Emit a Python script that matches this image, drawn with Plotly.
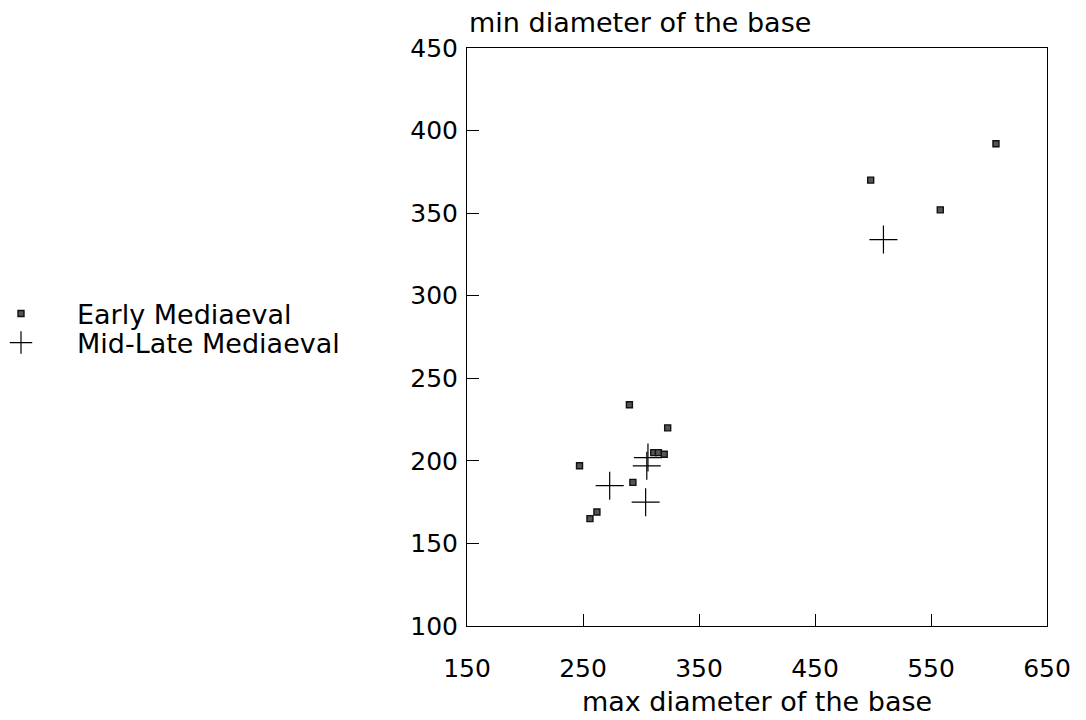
import plotly.graph_objects as go

# Early Mediaeval
early_x = [606, 498, 558, 290, 323, 311, 315, 320, 247, 293, 262, 256]
early_y = [392, 370, 352, 234, 220, 205, 205, 204, 197, 187, 169, 165]
# Mid-Late Mediaeval
late_x = [509, 273, 304, 306, 305]
late_y = [334, 185, 175, 202, 197]

x_ticks = [150, 250, 350, 450, 550, 650]
y_ticks = [100, 150, 200, 250, 300, 350, 400, 450]

FONT = "DejaVu Sans"
L, R, T, B = 467, 1047, 48, 626
W, H = 1086, 720


def px_x(p):
    return (p - L) / (R - L)


def px_y(p):
    return 1 - (p - T) / (B - T)


fig = go.Figure()
fig.add_trace(go.Scatter(
    x=early_x, y=early_y, mode="markers", name="Early Mediaeval",
    legend="legend",
    marker=dict(symbol="square", size=6, color="#555",
                line=dict(width=1.4, color="#111")),
))
fig.add_trace(go.Scatter(
    x=late_x, y=late_y, mode="markers", name="Mid-Late Mediaeval",
    legend="legend2",
    marker=dict(symbol="cross-thin", size=20, color="black",
                line=dict(width=1.2, color="black")),
))

leg_common = dict(
    x=px_x(-35), xanchor="left", yanchor="middle",
    itemwidth=102, font=dict(family=FONT, size=27, color="black"),
    bgcolor="rgba(0,0,0,0)", borderwidth=0,
)

fig.update_layout(
    width=W, height=H,
    margin=dict(l=L, r=W - R, t=T, b=H - B, pad=0, autoexpand=False),
    paper_bgcolor="white", plot_bgcolor="white",
    font=dict(family=FONT, size=25, color="black"),
    showlegend=True,
    legend=dict(y=px_y(314), **leg_common),
    legend2=dict(y=px_y(343), **leg_common),
    xaxis=dict(
        range=[150, 650], tickvals=x_ticks, ticktext=[str(v) for v in x_ticks],
        showgrid=False, zeroline=False,
        showline=True, linecolor="black", linewidth=1, mirror=True,
        ticks="inside", ticklen=12, tickcolor="black", tickwidth=1,
        ticklabelstandoff=20,
        tickfont=dict(family=FONT, size=25),
        title=dict(text="max diameter of the base", standoff=10,
                   font=dict(family=FONT, size=27)),
    ),
    yaxis=dict(
        range=[100, 450], tickvals=y_ticks, ticktext=[str(v) for v in y_ticks],
        showgrid=False, zeroline=False,
        showline=True, linecolor="black", linewidth=1, mirror=True,
        ticks="inside", ticklen=12, tickcolor="black", tickwidth=1,
        ticklabelstandoff=3,
        tickfont=dict(family=FONT, size=25),
    ),
    annotations=[dict(
        text="min diameter of the base", xref="paper", yref="paper",
        x=0, y=1, xanchor="left", yanchor="bottom", yshift=8, showarrow=False,
        font=dict(family=FONT, size=27, color="black"),
    )],
)

fig.write_html("out.html")
